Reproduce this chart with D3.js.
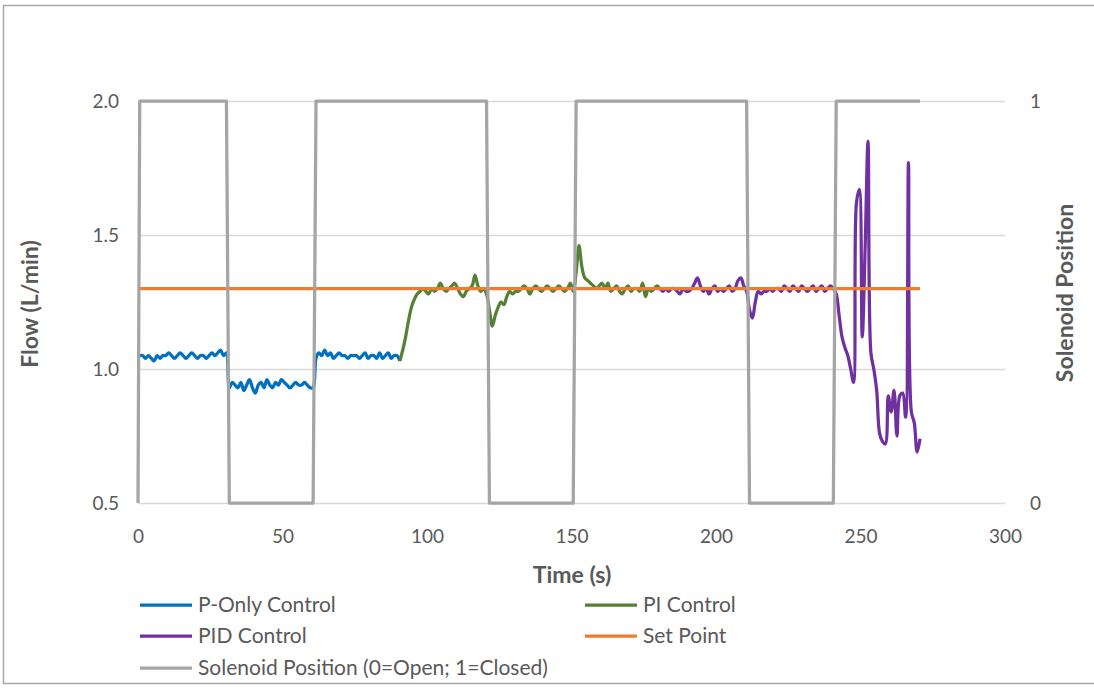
<!DOCTYPE html>
<html>
<head>
<meta charset="utf-8">
<script src="https://cdn.jsdelivr.net/npm/d3@7"></script>
<style>
  html, body { margin: 0; padding: 0; background: #fff; }
  svg { display: block; }
  text { font-family: Lato, "Open Sans", sans-serif; }
</style>
</head>
<body>
<svg id="chart" width="1094" height="688"></svg>
<script>
// Flow log, one sample per second, first sample at T0 seconds.
const T0 = 0.6;
const SAMPLE_STEP = 1;

// P-only control, samples 0..90
const pOnlyFlow = [
  1.05,1.05,1.04,1.05,1.04,1.03,1.05,1.04,1.05,1.05,
  1.06,1.05,1.04,1.05,1.06,1.05,1.04,1.05,1.06,1.05,
  1.04,1.05,1.05,1.04,1.05,1.06,1.05,1.06,1.07,1.05,
  1.06,0.93,0.95,0.94,0.93,0.95,0.92,0.94,0.96,0.93,
  0.91,0.94,0.95,0.93,0.96,0.94,0.93,0.95,0.94,0.96,
  0.95,0.94,0.93,0.94,0.95,0.94,0.94,0.95,0.94,0.93,
  0.93,1.04,1.06,1.05,1.07,1.05,1.06,1.04,1.05,1.06,
  1.05,1.05,1.04,1.05,1.05,1.05,1.04,1.05,1.06,1.04,
  1.05,1.05,1.04,1.06,1.04,1.05,1.06,1.04,1.05,1.05,
  1.03
];

// PI control, samples 90..180
const piFlow = [
  1.03,1.07,1.12,1.18,1.23,1.26,1.28,1.29,1.30,1.29,
  1.28,1.30,1.29,1.30,1.32,1.30,1.29,1.30,1.31,1.32,
  1.30,1.28,1.27,1.29,1.30,1.31,1.35,1.31,1.29,1.30,
  1.28,1.22,1.16,1.20,1.23,1.25,1.24,1.27,1.29,1.28,
  1.29,1.29,1.30,1.31,1.30,1.28,1.30,1.31,1.30,1.29,
  1.30,1.31,1.30,1.29,1.30,1.31,1.30,1.29,1.30,1.32,
  1.29,1.36,1.46,1.38,1.34,1.33,1.32,1.31,1.30,1.31,
  1.32,1.30,1.32,1.29,1.30,1.31,1.29,1.28,1.30,1.31,
  1.29,1.30,1.30,1.29,1.32,1.27,1.30,1.29,1.30,1.31,
  1.30
];

// PID control, samples 180..270
const pidFlow = [
  1.30,1.29,1.30,1.29,1.30,1.30,1.29,1.28,1.30,1.29,
  1.29,1.30,1.32,1.34,1.31,1.29,1.30,1.28,1.30,1.31,
  1.29,1.30,1.29,1.30,1.31,1.29,1.30,1.33,1.34,1.31,
  1.29,1.22,1.19,1.25,1.29,1.28,1.29,1.29,1.30,1.29,
  1.30,1.30,1.29,1.31,1.30,1.29,1.31,1.30,1.29,1.31,
  1.30,1.29,1.30,1.31,1.29,1.30,1.31,1.29,1.30,1.31,
  1.30,1.28,1.20,1.12,1.08,1.05,1.00,0.95,1.62,1.67,
  1.12,1.45,1.85,1.06,1.00,0.92,0.76,0.73,0.72,0.90,
  0.84,0.92,0.75,0.90,0.91,0.82,1.77,0.84,0.80,0.69,
  0.74
];

const seriesStart = [0, 90, 180];   // first sample index of each controller run
const setPoint = 1.3;               // L/min
const lastSample = 270;

// Solenoid valve state (0 = open, 1 = closed)
const solenoidTime  = [0, 0.6, 30.6, 31.6, 60.6, 61.6, 120.6, 121.6, 150.6, 151.6, 210.6, 211.6, 240.6, 241.6, 270.6];
const solenoidState = [0, 1,   1,    0,    0,    1,    1,     0,     0,     1,     1,     0,     0,     1,     1];

const flowTicks = [0.5, 1.0, 1.5, 2.0];
const timeTicks = [0, 50, 100, 150, 200, 250, 300];
const solenoidTicks = [0, 1];

const legendItems = [
  { name: "P-Only Control", color: "#0070C0" },
  { name: "PI Control", color: "#548235" },
  { name: "PID Control", color: "#7030A0" },
  { name: "Set Point", color: "#ED7D31" },
  { name: "Solenoid Position (0=Open; 1=Closed)", color: "#A5A5A5" }
];

const svg = d3.select("#chart");
const plotLeft = 138, plotRight = 1005, plotTop = 101, plotBottom = 503;

const x = d3.scaleLinear().domain([0, 300]).range([plotLeft, plotRight]);
const y = d3.scaleLinear().domain([0.5, 2.0]).range([plotBottom, plotTop]);
const y2 = d3.scaleLinear().domain([0, 1]).range([plotBottom, plotTop]);

// chart frame
svg.append("rect")
  .attr("x", 3.5).attr("y", 5.5)
  .attr("width", 1100).attr("height", 678)
  .attr("fill", "#fff").attr("stroke", "#A6A6A6").attr("stroke-width", 1.5);

// horizontal gridlines
svg.append("g").selectAll("line").data(flowTicks).join("line")
  .attr("x1", plotLeft).attr("x2", plotRight)
  .attr("y1", d => Math.round(y(d)) + 0.5).attr("y2", d => Math.round(y(d)) + 0.5)
  .attr("stroke", "#D9D9D9").attr("stroke-width", 1.5);

const tickColor = "#595959";
const tickSize = 19;

// left axis
const gy = svg.append("g").attr("transform", `translate(${plotLeft},0)`)
  .call(d3.axisLeft(y).tickValues(flowTicks).tickFormat(d3.format(".1f")).tickSize(0).tickPadding(19));
gy.select(".domain").remove();
gy.selectAll("text").attr("font-size", tickSize).attr("fill", tickColor).attr("font-family", "Lato");

// right axis
const gy2 = svg.append("g").attr("transform", `translate(${plotRight},0)`)
  .call(d3.axisRight(y2).tickValues(solenoidTicks).tickFormat(d3.format("d")).tickSize(0).tickPadding(25));
gy2.select(".domain").remove();
gy2.selectAll("text").attr("font-size", tickSize).attr("fill", tickColor).attr("font-family", "Lato");

// bottom axis
const gx = svg.append("g").attr("transform", `translate(0,${plotBottom})`)
  .call(d3.axisBottom(x).tickValues(timeTicks).tickFormat(d3.format("d")).tickSize(0).tickPadding(27));
gx.select(".domain").remove();
gx.selectAll("text").attr("font-size", tickSize).attr("fill", tickColor).attr("font-family", "Lato");

// axis titles
svg.append("text").attr("transform", "translate(38,304) rotate(-90)")
  .attr("text-anchor", "middle").attr("font-size", 23).attr("font-weight", "bold")
  .attr("fill", tickColor).text("Flow (L/min)");
svg.append("text").attr("transform", "translate(1073,293) rotate(-90)")
  .attr("text-anchor", "middle").attr("font-size", 23).attr("font-weight", "bold")
  .attr("fill", tickColor).text("Solenoid Position");
svg.append("text").attr("x", 572).attr("y", 583)
  .attr("text-anchor", "middle").attr("font-size", 23).attr("font-weight", "bold")
  .attr("fill", tickColor).text("Time (s)");

// flow lines
const flowLine = d3.line()
  .x(d => x(d.t)).y(d => y(d.v))
  .curve(d3.curveCatmullRom.alpha(0.5));

const runs = [pOnlyFlow, piFlow, pidFlow];
const plot = svg.append("g");
runs.forEach((vals, k) => {
  const pts = vals.map((v, i) => ({ t: T0 + (seriesStart[k] + i) * SAMPLE_STEP, v }));
  plot.append("path").datum(pts)
    .attr("d", flowLine)
    .attr("fill", "none")
    .attr("stroke", legendItems[k].color)
    .attr("stroke-width", 3.25)
    .attr("stroke-linejoin", "round");
});

// set point
const spPts = [{ t: T0, v: setPoint }, { t: T0 + lastSample * SAMPLE_STEP, v: setPoint }];
plot.append("path").datum(spPts)
  .attr("d", d3.line().x(d => x(d.t)).y(d => y(d.v)))
  .attr("fill", "none").attr("stroke", legendItems[3].color).attr("stroke-width", 3.25);

// solenoid position, secondary axis
const solPts = solenoidTime.map((t, i) => ({ t, s: solenoidState[i] }));
plot.append("path").datum(solPts)
  .attr("d", d3.line().x(d => x(d.t)).y(d => y2(d.s)))
  .attr("fill", "none").attr("stroke", legendItems[4].color).attr("stroke-width", 3.25)
  .attr("stroke-linejoin", "round");

// legend
const legendPos = [
  { x: 140, y: 605 }, { x: 585, y: 605 },
  { x: 140, y: 636 }, { x: 585, y: 636 },
  { x: 140, y: 668 }
];
const lg = svg.append("g");
legendItems.forEach((it, i) => {
  const p = legendPos[i];
  const g = lg.append("g").attr("transform", `translate(${p.x},${p.y})`);
  g.append("line").attr("x1", 0).attr("x2", 52).attr("y1", 0).attr("y2", 0)
    .attr("stroke", it.color).attr("stroke-width", 3.25);
  g.append("text").attr("x", 58).attr("y", 0).attr("dy", "0.35em")
    .attr("font-size", 21).attr("fill", tickColor).text(it.name);
});
</script>
</body>
</html>
